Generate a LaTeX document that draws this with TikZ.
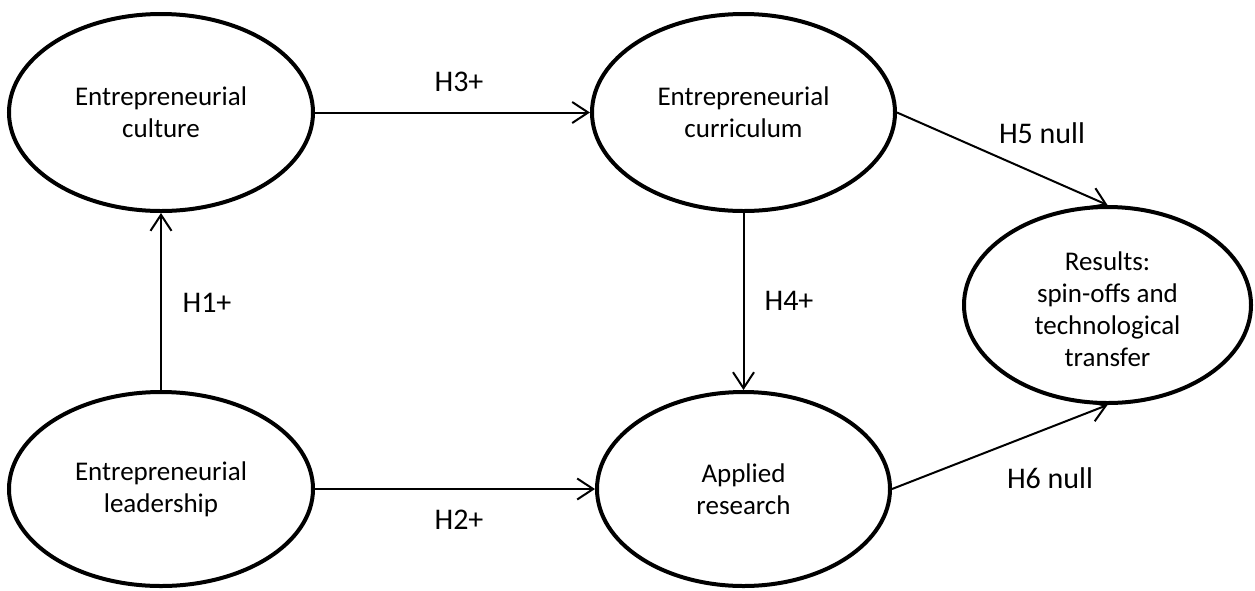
\documentclass[tikz,border=0pt]{standalone}
\usepackage{fontspec}
\setmainfont{Carlito}
\usetikzlibrary{shapes.geometric,arrows.meta}
\begin{document}
\begin{tikzpicture}[x=1pt,y=-1pt,
  construct/.style={ellipse,draw,line width=4pt,inner sep=0pt,align=center,
    font=\fontsize{27}{32}\selectfont},
  link/.style={line width=2pt,-{Straight Barb[length=16pt,width=21pt,line width=2pt]}},
  hyp/.style={font=\fontsize{30}{36}\selectfont,inner sep=0pt}]
\useasboundingbox (0,0) rectangle (1255,590);
% constructs
\node[construct,minimum width=304pt,minimum height=197pt] (cul) at (161,112.5) {Entrepreneurial\\culture};
\node[construct,minimum width=303pt,minimum height=197pt] (cur) at (743.5,112.5) {Entrepreneurial\\curriculum};
\node[construct,minimum width=304pt,minimum height=194pt] (lea) at (161,489) {Entrepreneurial\\leadership};
\node[construct,minimum width=293pt,minimum height=194pt] (app) at (743.5,489) {Applied\\research};
\node[construct,minimum width=287pt,minimum height=196pt] (res) at (1107.5,305) {};
\node[align=center,inner sep=0pt,font=\fontsize{27}{32}\selectfont] (restext) at (1107.5,309) {Results:\\spin-offs and\\technological\\transfer};
% hypothesised paths
\draw[link] (lea.north) -- (cul.south);
\draw[link] (cul.east) -- (cur.west);
\draw[link] (lea.east) -- (app.west);
\draw[link] (cur.south) -- (app.north);
\draw[link] (cur.east) -- (res.north);
\draw[link] (app.east) -- (res.south);
% path labels
\node[hyp] (h1) at (207,303) {H1+};
\node[hyp] (h3) at (459,82) {H3+};
\node[hyp] (h2) at (459,520) {H2+};
\node[hyp] (h4) at (789,301) {H4+};
\node[hyp] (h5) at (1042,133) {H5 null};
\node[hyp] (h6) at (1050,478) {H6 null};
\end{tikzpicture}
\end{document}
